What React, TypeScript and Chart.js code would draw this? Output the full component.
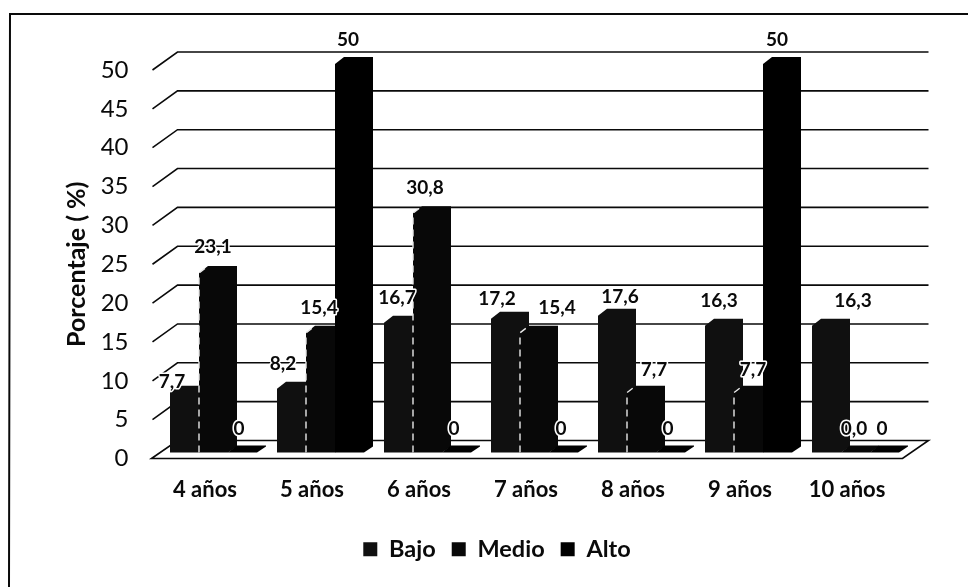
import React, { useEffect, useRef } from "react";
import { Chart, registerables } from "chart.js";

Chart.register(...registerables);

const categories = ["4 años", "5 años", "6 años", "7 años", "8 años", "9 años", "10 años"];
const bajo = [7.7, 8.2, 16.7, 17.2, 17.6, 16.3, 16.3];
const medio = [23.1, 15.4, 30.8, 15.4, 7.7, 7.7, 0];
const alto = [0, 50, 0, 0, 0, 50, 0];
const bajoText = ["7,7", "8,2", "16,7", "17,2", "17,6", "16,3", "16,3"];
const medioText = ["23,1", "15,4", "30,8", "15,4", "7,7", "7,7", "0,0"];
const altoText = ["0", "50", "0", "0", "0", "50", "0"];
const seriesNames = ["Bajo", "Medio", "Alto"];

const labelDx = [
  [-17, -13, -6, -13, 3, -5, 22],
  [-5, -6, -7, 18, 8, 0, -6],
  [-8, -6, -7, -7, -7, -5, -7],
];
const labelDy = [
  [-11, -25, -25, -19.5, -19, -25, -25],
  [-26, -25, -25, -25, -23, -23, -24],
  [-24, -24, -24, -24, -24, -24, -24],
];
const labelTexts = [bajoText, medioText, altoText];

const FONT = "Lato, Carlito, 'Open Sans', sans-serif";
const INK = "#0a0a0a";
const DEPTH_X = 26;
const DEPTH_Y = 18;
const BAR_W = 38;
const BAR_SHIFT = 13;
const CHAMFER_X = 9;
const CHAMFER_Y = 7;

const scene = {
  id: "scene3d",
  beforeDatasetsDraw(chart: any) {
    const { ctx, chartArea, scales } = chart;
    const y = scales.y;
    ctx.save();

    // sheet frame
    ctx.strokeStyle = INK;
    ctx.lineWidth = 2;
    ctx.beginPath();
    ctx.moveTo(968, 14);
    ctx.lineTo(10, 14);
    ctx.lineTo(9, 587);
    ctx.stroke();

    // walls: side + back gridlines
    ctx.lineWidth = 1.6;
    y.ticks.forEach((t: any) => {
      if (t.value === 0) return;
      const py = y.getPixelForValue(t.value);
      ctx.beginPath();
      ctx.moveTo(chartArea.left + 1, py);
      ctx.lineTo(chartArea.left + DEPTH_X, py - DEPTH_Y);
      ctx.lineTo(chartArea.right + DEPTH_X + 2, py - DEPTH_Y);
      ctx.stroke();
    });

    // floor
    const y0 = y.getPixelForValue(0);
    ctx.beginPath();
    ctx.moveTo(chartArea.left, y0);
    ctx.lineTo(chartArea.left + DEPTH_X, y0 - DEPTH_Y);
    ctx.lineTo(chartArea.right + DEPTH_X + 2, y0 - DEPTH_Y);
    ctx.lineTo(chartArea.right + 2, y0);
    ctx.closePath();
    ctx.stroke();

    // bars, in series order so that later series sit on top
    chart.data.datasets.forEach((ds: any, di: number) => {
      const meta = chart.getDatasetMeta(di);
      meta.data.forEach((el: any, i: number) => {
        const cx = el.x + BAR_SHIFT;
        const left = cx - BAR_W / 2;
        const right = cx + BAR_W / 2;
        ctx.fillStyle = ds.backgroundColor;
        ctx.beginPath();
        ctx.moveTo(left, el.base);
        ctx.lineTo(left, el.y);
        ctx.lineTo(left + CHAMFER_X, el.y - CHAMFER_Y);
        ctx.lineTo(right, el.y - CHAMFER_Y);
        ctx.lineTo(right, el.base - 6);
        ctx.lineTo(right - CHAMFER_X, el.base);
        ctx.closePath();
        ctx.fill();
        if (di === 1 && ds.data[i] > 0) {
          ctx.save();
          ctx.strokeStyle = "#e8e8e8";
          ctx.lineWidth = 1.4;
          ctx.setLineDash([7, 5]);
          ctx.beginPath();
          ctx.moveTo(left, el.base);
          ctx.lineTo(left, el.y);
          ctx.lineTo(left + CHAMFER_X, el.y - CHAMFER_Y);
          ctx.stroke();
          ctx.restore();
        }
      });
    });
    ctx.restore();
  },
  beforeDatasetDraw() {
    return false;
  },
  afterDatasetsDraw(chart: any) {
    const { ctx } = chart;
    ctx.save();
    ctx.font = `bold 19px ${FONT}`;
    ctx.textAlign = "center";
    ctx.textBaseline = "middle";
    ctx.lineJoin = "round";
    chart.data.datasets.forEach((_: any, di: number) => {
      chart.getDatasetMeta(di).data.forEach((el: any, i: number) => {
        const tx = el.x + BAR_SHIFT + labelDx[di][i];
        const ty = el.y + labelDy[di][i];
        ctx.strokeStyle = "#ffffff";
        ctx.lineWidth = 3;
        ctx.strokeText(labelTexts[di][i], tx, ty);
        ctx.fillStyle = INK;
        ctx.fillText(labelTexts[di][i], tx, ty);
      });
    });
    ctx.restore();
  },
};

export default function App() {
  const ref = useRef<HTMLCanvasElement>(null);
  useEffect(() => {
    const chart = new Chart(ref.current as HTMLCanvasElement, {
      type: "bar",
      data: {
        labels: categories,
        datasets: [
          { label: seriesNames[0], data: bajo, backgroundColor: "#101010", yAxisID: "yb", barThickness: 29, clip: false },
          { label: seriesNames[1], data: medio, backgroundColor: "#080808", yAxisID: "yb", barThickness: 29, clip: false },
          { label: seriesNames[2], data: alto, backgroundColor: "#000000", yAxisID: "yb", barThickness: 29, clip: false },
        ],
      } as any,
      plugins: [scene],
      options: {
        animation: false,
        responsive: false,
        layout: { padding: { top: 70, left: 26, right: 0, bottom: 16 } },
        plugins: {
          tooltip: { enabled: false },
          legend: {
            position: "bottom",
            labels: {
              boxWidth: 14,
              boxHeight: 14,
              padding: 16,
              color: INK,
              font: { family: FONT, size: 23.5, weight: "bold" },
            },
          },
        },
        scales: {
          x: {
            grid: { display: false },
            border: { display: false },
            ticks: { padding: 10, color: INK, maxRotation: 0, font: { family: FONT, size: 22, weight: "bold" } },
            afterFit(s: any) {
              s.height = 63;
            },
          },
          y: {
            min: 0,
            max: 50,
            position: "left",
            grid: { display: false },
            border: { display: false },
            ticks: { stepSize: 5, padding: 15, color: INK, font: { family: FONT, size: 24 } },
            title: {
              display: true,
              text: "Porcentaje ( %)",
              color: INK,
              font: { family: FONT, size: 25, weight: "bold" },
              padding: { top: 36, bottom: 0 },
            },
            afterFit(s: any) {
              s.width = 125.5;
            },
          },
          yb: {
            min: -0.773,
            max: 49.227,
            position: "right",
            grid: { display: false },
            border: { display: false },
            ticks: { display: false },
            afterFit(s: any) {
              s.width = 67.5;
            },
          },
        },
      } as any,
    });
    return () => chart.destroy();
  }, []);
  return (
    <div style={{ position: "absolute", left: 0, top: 0, width: 968, height: 587, background: "#fff" }}>
      <canvas ref={ref} width={968} height={587} style={{ display: "block" }} />
    </div>
  );
}
